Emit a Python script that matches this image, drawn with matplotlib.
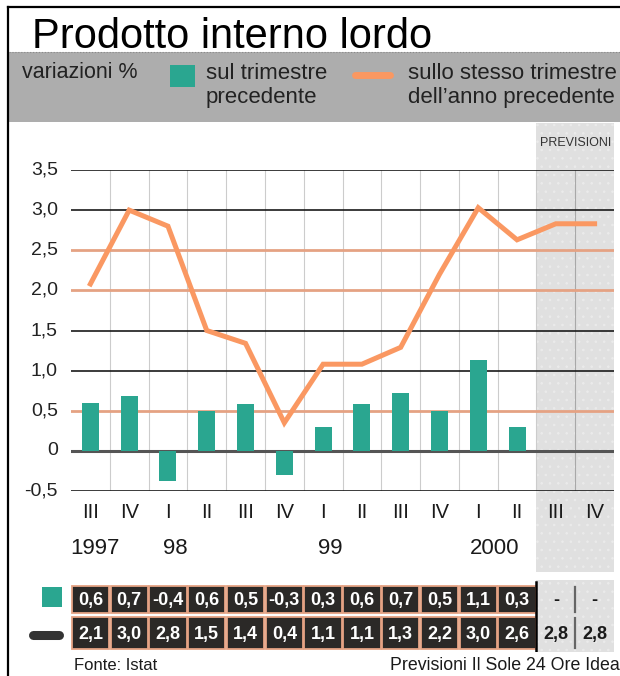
import matplotlib
matplotlib.use('Agg')
import matplotlib.pyplot as plt
from matplotlib.patches import Rectangle
from matplotlib.lines import Line2D
from matplotlib.transforms import blended_transform_factory

plt.rcParams['font.family'] = ['Liberation Sans', 'DejaVu Sans']
plt.rcParams['hatch.linewidth'] = 0.6

# ---------- dati ----------
quarters = ["III", "IV", "I", "II", "III", "IV", "I", "II", "III", "IV", "I", "II", "III", "IV"]
years = ["1997", "98", "99", "2000"]
year_pos = [0.12, 2.18, 6.18, 10.43]
bar_vals = [0.6, 0.68, -0.38, 0.5, 0.58, -0.3, 0.3, 0.58, 0.72, 0.5, 1.13, 0.3]
line_vals = [2.08, 3.0, 2.8, 1.5, 1.34, 0.35, 1.08, 1.08, 1.29, 2.2, 3.03, 2.63, 2.83, 2.83]
bar_labels = ["0,6", "0,7", "-0,4", "0,6", "0,5", "-0,3", "0,3", "0,6", "0,7", "0,5", "1,1", "0,3", "-", "-"]
line_labels = ["2,1", "3,0", "2,8", "1,5", "1,4", "0,4", "1,1", "1,1", "1,3", "2,2", "3,0", "2,6", "2,8", "2,8"]
yticks = [-0.5, 0, 0.5, 1.0, 1.5, 2.0, 2.5, 3.0, 3.5]
n_hist = len(bar_vals)

TEAL = '#2aa690'
ORANGE = '#fa9862'
SALMON = '#e5a283'
BAND = '#adadad'
FCST = '#e0e0e0'
DOTS = '#ebebeb'

W, H = 620, 676


def fx(px):
    return px / W


def fy(py):
    return 1 - py / H


fig = plt.figure(figsize=(W / 100, H / 100), dpi=100)
fig.patch.set_facecolor('white')

# cornice
fig.add_artist(Line2D([fx(8), fx(8)], [fy(7), 0], color='black', lw=1.6))
fig.add_artist(Line2D([fx(8), 1], [fy(7), fy(7)], color='black', lw=1.6))

# titolo e fascia legenda
fig.text(fx(32), fy(48), "Prodotto interno lordo", fontsize=30, va='baseline', ha='left')
fig.add_artist(Rectangle((fx(9), fy(122)), 1 - fx(9), (122 - 52) / H, color=BAND, lw=0))
fig.add_artist(Line2D([fx(9), 1], [fy(52), fy(52)], color='#8a8a8a', lw=0.8, ls=':'))
fig.text(fx(22), fy(78), "variazioni %", fontsize=15.5, va='baseline', color='#222222')
fig.add_artist(Rectangle((fx(170), fy(87)), 25 / W, 22 / H, color=TEAL, lw=0))
fig.text(fx(206), fy(79), "sul trimestre", fontsize=16, va='baseline', color='#222222')
fig.text(fx(206), fy(103), "precedente", fontsize=16, va='baseline', color='#222222')
fig.add_artist(Line2D([fx(355), fx(390)], [fy(75), fy(75)], color=ORANGE, lw=5,
                      solid_capstyle='round'))
fig.text(fx(408), fy(79), "sullo stesso trimestre", fontsize=16, va='baseline', color='#222222')
fig.text(fx(408), fy(103), "dell\u2019anno precedente", fontsize=16, va='baseline',
         color='#222222')

# grafico principale
ax = fig.add_axes([fx(71), fy(491), (614 - 71) / W, (491 - 170) / H])
ax.set_xlim(-0.5, 13.5)
ax.set_ylim(-0.5, 3.5)
ax.axis('off')
x = list(range(len(quarters)))

bt = blended_transform_factory(ax.transData, fig.transFigure)
ax.add_patch(Rectangle((n_hist - 0.5, fy(572)), len(quarters) - n_hist, (572 - 123) / H,
                       transform=bt, facecolor=FCST, edgecolor=DOTS, hatch='..',
                       lw=0, zorder=0, clip_on=False))
ax.text(n_hist + 0.5, fy(143), "PREVISIONI", transform=bt, fontsize=9, color='#333333',
        ha='center', va='center')

for k in range(1, len(quarters)):
    gc = '#a8a8a8' if k > n_hist else '#cccccc'
    ax.plot([k - 0.5, k - 0.5], [-0.5, 3.5], color=gc, lw=0.8, zorder=1)

for yv in yticks:
    if yv == 0:
        ax.axhline(yv, color='#555555', lw=2.2, zorder=2)
    elif yv in (0.5, 2.0, 2.5):
        ax.axhline(yv, color=SALMON, lw=2.0, zorder=2)
    else:
        ax.axhline(yv, color='#1a1a1a', lw=1.2, zorder=2)
    lab = "0" if yv == 0 else f"{yv:.1f}".replace('.', ',')
    ax.text(-0.84, yv, lab, ha='right', va='center', fontsize=14, color='#222222')

ax.bar(x[:n_hist], bar_vals, width=0.44, color=TEAL, zorder=3)
ax.plot(x, line_vals, color=ORANGE, lw=3.6, zorder=4, solid_joinstyle='miter')

for i, q in enumerate(quarters):
    ax.text(i, fy(512), q, transform=bt, ha='center', va='center', fontsize=14.5,
            color='#1a1a1a')
for yp, yl in zip(year_pos, years):
    ax.text(yp, fy(549), yl, transform=bt, ha='center', va='center', fontsize=16,
            color='#1a1a1a')

# tabella valori
tab = fig.add_axes([fx(71), fy(652), (614 - 71) / W, (652 - 580) / H])
tab.set_xlim(-0.5, 13.5)
tab.set_ylim(652, 580)
tab.axis('off')
tab.add_patch(Rectangle((n_hist - 0.5, 580), len(quarters) - n_hist, 72, facecolor=FCST,
                        edgecolor=DOTS, hatch='..', lw=0))
rows = [(586, 613, bar_labels), (617, 649, line_labels)]
for top, bot, labels in rows:
    for i, lab in enumerate(labels):
        if i < n_hist:
            tab.add_patch(Rectangle((i - 0.48, top), 0.96, bot - top, facecolor='#2b2927',
                                    edgecolor=SALMON, lw=1.3))
            col = 'white'
        else:
            col = '#1a1a1a'
        tab.text(i, (top + bot) / 2 + 1, lab, color=col, ha='center', va='center',
                 fontsize=13, fontweight='bold')
    tab.plot([n_hist + 0.5, n_hist + 0.5], [top + 1, bot - 1], color='#666666', lw=1.6)
tab.plot([n_hist - 0.5, n_hist - 0.5], [582, 652], color='black', lw=1.8)

fig.add_artist(Rectangle((fx(42), fy(607)), 20 / W, 20 / H, color=TEAL, lw=0))
fig.add_artist(Line2D([fx(33), fx(59)], [fy(635), fy(635)], color='#333333', lw=6.5,
                      solid_capstyle='round'))

fig.text(fx(74), fy(665), "Fonte: Istat", fontsize=12, va='center', color='#1a1a1a')
fig.text(fx(620), fy(665), "Previsioni Il Sole 24 Ore Idea", fontsize=12.8, va='center',
         ha='right', color='#1a1a1a')

fig.savefig('out.png', dpi=100)
